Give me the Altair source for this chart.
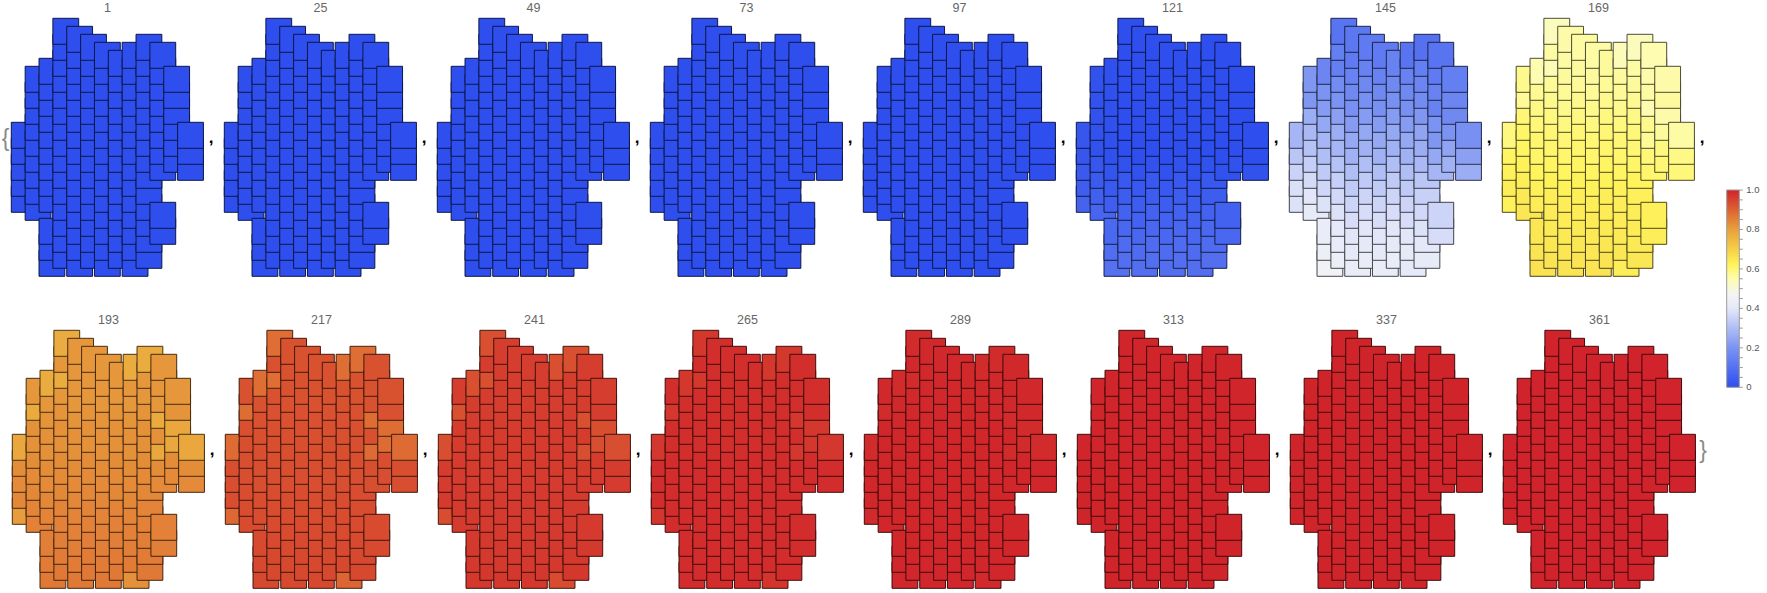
import altair as alt
import pandas as pd

# ---------------- data ----------------
PANEL_LABELS = [1, 25, 49, 73, 97, 121, 145, 169, 193, 217, 241, 265, 289, 313, 337, 361]

# rows (half-step index, top = 0) occupied in each of the 13 columns of a panel
COLUMN_ROWS = [
    [13, 15, 17, 19, 21],
    [6, 8, 10, 12, 14, 16, 18, 20, 22],
    [5, 7, 9, 11, 13, 15, 17, 19, 21, 25, 27, 29],
    [0, 2, 4, 6, 8, 10, 12, 14, 16, 18, 20, 22, 24, 26, 28],
    [1, 3, 5, 7, 9, 11, 13, 15, 17, 19, 21, 23, 25, 27, 29],
    [2, 4, 6, 8, 10, 12, 14, 16, 18, 20, 22, 24, 26, 28],
    [3, 5, 7, 9, 11, 13, 15, 17, 19, 21, 23, 25, 27, 29],
    [4, 6, 8, 10, 12, 14, 16, 18, 20, 22, 24, 26, 28],
    [3, 5, 7, 9, 11, 13, 15, 17, 19, 21, 23, 25, 27, 29],
    [2, 4, 6, 8, 10, 12, 14, 16, 18, 20, 22, 24, 26, 28],
    [3, 5, 7, 9, 11, 13, 15, 17, 23, 25],
    [6, 8, 10, 12, 14, 16],
    [13, 15, 17],
]

# cells that lag behind their neighbours (column, row)
LAG_CELLS = [[0, 13], [0, 21], [1, 8], [2, 5], [3, 0], [3, 4], [8, 3], [9, 2],
             [10, 9], [10, 13], [11, 10], [11, 12], [12, 13], [8, 29]]

# value by band of two rows (row // 2), one list per panel
ROW_VALUES = [
    [0.0, 0.0, 0.0, 0.0, 0.0, 0.0, 0.0, 0.0, 0.0, 0.0, 0.0, 0.0, 0.0, 0.0, 0.0],
    [0.0, 0.0, 0.0, 0.0, 0.0, 0.0, 0.0, 0.0, 0.0, 0.0, 0.0, 0.0, 0.0, 0.0, 0.0],
    [0.0, 0.0, 0.0, 0.0, 0.0, 0.0, 0.0, 0.0, 0.0, 0.0, 0.0, 0.0, 0.0, 0.0, 0.0],
    [0.0, 0.0, 0.0, 0.0, 0.0, 0.0, 0.0, 0.0, 0.0, 0.0, 0.0, 0.0, 0.0, 0.0, 0.0],
    [0.0, 0.0, 0.0, 0.0, 0.0, 0.0, 0.0, 0.0, 0.0, 0.0, 0.0, 0.0, 0.0, 0.0, 0.0],
    [0.0, 0.0, 0.0, 0.0, 0.0, 0.0, 0.0, 0.0, 0.01, 0.025, 0.04, 0.055, 0.07, 0.085, 0.095],
    [0.12, 0.13, 0.15, 0.17, 0.19, 0.22, 0.25, 0.27, 0.30, 0.33, 0.355, 0.375, 0.395, 0.41, 0.425],
    [0.555, 0.56, 0.565, 0.57, 0.58, 0.59, 0.60, 0.605, 0.615, 0.625, 0.635, 0.64, 0.645, 0.65, 0.655],
    [0.815, 0.815, 0.815, 0.815, 0.82, 0.825, 0.825, 0.83, 0.835, 0.84, 0.845, 0.85, 0.855, 0.86, 0.865],
    [0.925, 0.925, 0.925, 0.925, 0.927, 0.928, 0.93, 0.93, 0.932, 0.933, 0.935, 0.936, 0.938, 0.94, 0.94],
    [0.958, 0.958, 0.958, 0.958, 0.959, 0.96, 0.961, 0.961, 0.962, 0.963, 0.963, 0.964, 0.965, 0.965, 0.966],
    [0.982, 0.982, 0.982, 0.982, 0.983, 0.983, 0.983, 0.984, 0.984, 0.984, 0.985, 0.985, 0.985, 0.986, 0.986],
    [0.992, 0.992, 0.992, 0.992, 0.992, 0.993, 0.993, 0.993, 0.993, 0.994, 0.994, 0.994, 0.994, 0.995, 0.995],
    [0.997, 0.997, 0.997, 0.997, 0.997, 0.997, 0.997, 0.998, 0.998, 0.998, 0.998, 0.998, 0.998, 0.998, 0.998],
    [0.999, 0.999, 0.999, 0.999, 0.999, 0.999, 0.999, 0.999, 0.999, 0.999, 0.999, 0.999, 0.999, 0.999, 0.999],
    [1.0, 1.0, 1.0, 1.0, 1.0, 1.0, 1.0, 1.0, 1.0, 1.0, 1.0, 1.0, 1.0, 1.0, 1.0],
]

# left-to-right shift of the value in each panel, one entry per column
COL_OFFSETS = [
    [0.0, 0.0, 0.0, 0.0, 0.0, 0.0, 0.0, 0.0, 0.0, 0.0, 0.0, 0.0, 0.0],
    [0.0, 0.0, 0.0, 0.0, 0.0, 0.0, 0.0, 0.0, 0.0, 0.0, 0.0, 0.0, 0.0],
    [0.0, 0.0, 0.0, 0.0, 0.0, 0.0, 0.0, 0.0, 0.0, 0.0, 0.0, 0.0, 0.0],
    [0.0, 0.0, 0.0, 0.0, 0.0, 0.0, 0.0, 0.0, 0.0, 0.0, 0.0, 0.0, 0.0],
    [0.0, 0.0, 0.0, 0.0, 0.0, 0.0, 0.0, 0.0, 0.0, 0.0, 0.0, 0.0, 0.0],
    [0.02, 0.01, 0.005, 0.0, 0.0, 0.0, 0.0, 0.0, 0.0, 0.0, 0.0, 0.0, 0.0],
    [0.05, 0.04, 0.03, 0.01, 0.0, 0.0, 0.0, 0.0, 0.0, -0.01, -0.02, -0.03, -0.04],
    [0.01, 0.01, 0.005, 0.0, 0.0, 0.0, 0.0, 0.0, 0.0, -0.005, -0.01, -0.015, -0.02],
    [0.0, 0.0, 0.0, 0.0, 0.0, 0.0, 0.0, 0.0, 0.0, 0.0, 0.0, 0.0, 0.0],
    [0.0, 0.0, 0.0, 0.0, 0.0, 0.0, 0.0, 0.0, 0.0, 0.0, 0.0, 0.0, 0.0],
    [0.0, 0.0, 0.0, 0.0, 0.0, 0.0, 0.0, 0.0, 0.0, 0.0, 0.0, 0.0, 0.0],
    [0.0, 0.0, 0.0, 0.0, 0.0, 0.0, 0.0, 0.0, 0.0, 0.0, 0.0, 0.0, 0.0],
    [0.0, 0.0, 0.0, 0.0, 0.0, 0.0, 0.0, 0.0, 0.0, 0.0, 0.0, 0.0, 0.0],
    [0.0, 0.0, 0.0, 0.0, 0.0, 0.0, 0.0, 0.0, 0.0, 0.0, 0.0, 0.0, 0.0],
    [0.0, 0.0, 0.0, 0.0, 0.0, 0.0, 0.0, 0.0, 0.0, 0.0, 0.0, 0.0, 0.0],
    [0.0, 0.0, 0.0, 0.0, 0.0, 0.0, 0.0, 0.0, 0.0, 0.0, 0.0, 0.0, 0.0],
]

LAG_AMOUNT = [0.0, 0.0, 0.0, 0.0, 0.0, 0.0, 0.02, 0.02, 0.04, 0.045, 0.03, 0.015, 0.005, 0.0, 0.0, 0.0]

CB_TICKS = [0.0, 0.05, 0.1, 0.15, 0.2, 0.25, 0.3, 0.35, 0.4, 0.45, 0.5,
            0.55, 0.6, 0.65, 0.7, 0.75, 0.8, 0.85, 0.9, 0.95, 1.0]
CB_LABEL_VALUES = [0.0, 0.2, 0.4, 0.6, 0.8, 1.0]
CB_LABEL_TEXT = ["0", "0.2", "0.4", "0.6", "0.8", "1.0"]

# colour map (TemperatureMap-like)
STOPS = [0.0, 0.2, 0.4, 0.47, 0.55, 0.62, 0.7, 0.8, 0.9, 1.0]
FILLS = ["#2e4fee", "#7b93f2", "#e4e8f9", "#f4f5f4", "#fdfcb0", "#fff45c",
         "#f5d048", "#e8a03c", "#dc6232", "#d0232b"]


def darker(hexcol, f=0.3):
    h = hexcol.lstrip("#")
    r, g, b = (int(h[i:i + 2], 16) for i in (0, 2, 4))
    return "#%02x%02x%02x" % (int(r * f), int(g * f), int(b * f))


EDGES = [darker(c) for c in FILLS]

# ---------------- layout ----------------
W, H = 1767, 593
PER_ROW = 8
PITCH = 213.0
X0_ROW0, X0_ROW1 = 11.3, 12.3
TOP_ROW0, TOP_ROW1 = 18.3, 330.3
DX, DY = 13.86, 8.0
CW, CH = 25.8, 26.0

# ---------------- tables ----------------
lag_set = {(c, r) for c, r in LAG_CELLS}
rows = []
for p, lab in enumerate(PANEL_LABELS):
    draw = 0
    for c, rlist in enumerate(COLUMN_ROWS):
        for r in sorted(rlist, reverse=True):
            v = ROW_VALUES[p][r // 2] + COL_OFFSETS[p][c]
            if (c, r) in lag_set:
                v -= LAG_AMOUNT[p]
            v = max(0.0, min(1.0, v))
            rows.append({"panel": lab, "pc": p % PER_ROW, "pr": p // PER_ROW,
                         "c": c, "r": r, "value": v, "draw": draw})
            draw += 1
cells_df = pd.DataFrame(rows)

titles_df = pd.DataFrame({"label": [str(l) for l in PANEL_LABELS],
                          "pc": [i % PER_ROW for i in range(len(PANEL_LABELS))],
                          "pr": [i // PER_ROW for i in range(len(PANEL_LABELS))]})
commas_df = titles_df.iloc[:-1].copy()
braces_df = pd.DataFrame({"txt": ["{", "}"], "pc": [0, 7], "pr": [0, 1], "side": [-1, 1]})

cb_bar_df = pd.DataFrame({"lo": [0.0], "hi": [1.0]})
cb_ticks_df = pd.DataFrame({"t": CB_TICKS})
cb_lab_df = pd.DataFrame({"t": CB_LABEL_VALUES, "lab": CB_LABEL_TEXT})

# ---------------- chart ----------------
xs = alt.Scale(domain=[0, W], range=[0, W], nice=False, zero=False)
ys = alt.Scale(domain=[0, H], range=[0, H], nice=False, zero=False)
cbs = alt.Scale(domain=[0, 1], range=[387.3, 190.0], nice=False, zero=False)

xbase = f"(datum.pr == 0 ? {X0_ROW0} : {X0_ROW1}) + datum.pc * {PITCH}"
ybase = f"(datum.pr == 0 ? {TOP_ROW0} : {TOP_ROW1})"

cells = alt.Chart(cells_df).transform_calculate(
    xa=f"{xbase} + datum.c * {DX}",
    xb=f"{xbase} + datum.c * {DX} + {CW}",
    ya=f"{ybase} + datum.r * {DY}",
    yb=f"{ybase} + datum.r * {DY} + {CH}",
).mark_rect(strokeWidth=1).encode(
    x=alt.X("xa:Q", scale=xs, axis=None),
    x2="xb:Q",
    y=alt.Y("ya:Q", scale=ys, axis=None),
    y2="yb:Q",
    color=alt.Color("value:Q", scale=alt.Scale(domain=STOPS, range=FILLS, interpolate="rgb"), legend=None),
    stroke=alt.Stroke("value:Q", scale=alt.Scale(domain=STOPS, range=EDGES, interpolate="rgb"), legend=None),
    order=alt.Order("draw:Q"),
)

titles = alt.Chart(titles_df).transform_calculate(
    tx=f"{xbase} + 96.1",
    ty=f"{ybase} - 10.6",
).mark_text(font="Liberation Sans", fontSize=12.5, color="#666666", baseline="middle", align="center").encode(
    x=alt.X("tx:Q", scale=xs, axis=None),
    y=alt.Y("ty:Q", scale=ys, axis=None),
    text="label:N",
)

commas = alt.Chart(commas_df).transform_calculate(
    tx=f"{xbase} + 197.5",
    ty=f"{ybase} + 124.5",
).mark_text(font="Liberation Sans", fontSize=17, fontWeight="bold", color="#000000",
            baseline="alphabetic", align="left").encode(
    x=alt.X("tx:Q", scale=xs, axis=None),
    y=alt.Y("ty:Q", scale=ys, axis=None),
    text=alt.value(","),
)

braces = alt.Chart(braces_df).transform_calculate(
    tx=f"{xbase} + (datum.side < 0 ? -9.5 : 196.0)",
    ty=f"{ybase} + 127.5",
).mark_text(font="Liberation Sans", fontSize=23, color="#8a8a8a",
            baseline="alphabetic", align="left").encode(
    x=alt.X("tx:Q", scale=xs, axis=None),
    y=alt.Y("ty:Q", scale=ys, axis=None),
    text="txt:N",
)

gradient = alt.LinearGradient(
    gradient="linear",
    stops=[alt.GradientStop(offset=s, color=c) for s, c in zip(STOPS, FILLS)],
    x1=0, x2=0, y1=1, y2=0,
)

cb_bar = alt.Chart(cb_bar_df).mark_rect(fill=gradient, stroke="#9a9a9a", strokeWidth=1).encode(
    x=alt.value(1726.7), x2=alt.value(1739.3),
    y=alt.Y("lo:Q", scale=cbs, axis=None), y2="hi:Q",
)

cb_ticks = alt.Chart(cb_ticks_df).mark_rule(color="#9a9a9a", strokeWidth=1).encode(
    x=alt.value(1739.3), x2=alt.value(1742.8),
    y=alt.Y("t:Q", scale=cbs, axis=None),
)

cb_labels = alt.Chart(cb_lab_df).mark_text(font="Liberation Sans", fontSize=9.5, color="#555555",
                                           align="left", baseline="middle").encode(
    x=alt.value(1746.3),
    y=alt.Y("t:Q", scale=cbs, axis=None),
    text="lab:N",
)

chart = alt.layer(cells, titles, commas, braces, cb_bar, cb_ticks, cb_labels).resolve_scale(
    y="independent"
).properties(
    width=W, height=H,
    autosize=alt.AutoSizeParams(type="none"),
    padding={"left": 0, "top": 0, "right": 0, "bottom": 0},
    background="white",
).configure_view(stroke=None)

chart.save("out.html", embed_options={"renderer": "svg", "actions": False})
